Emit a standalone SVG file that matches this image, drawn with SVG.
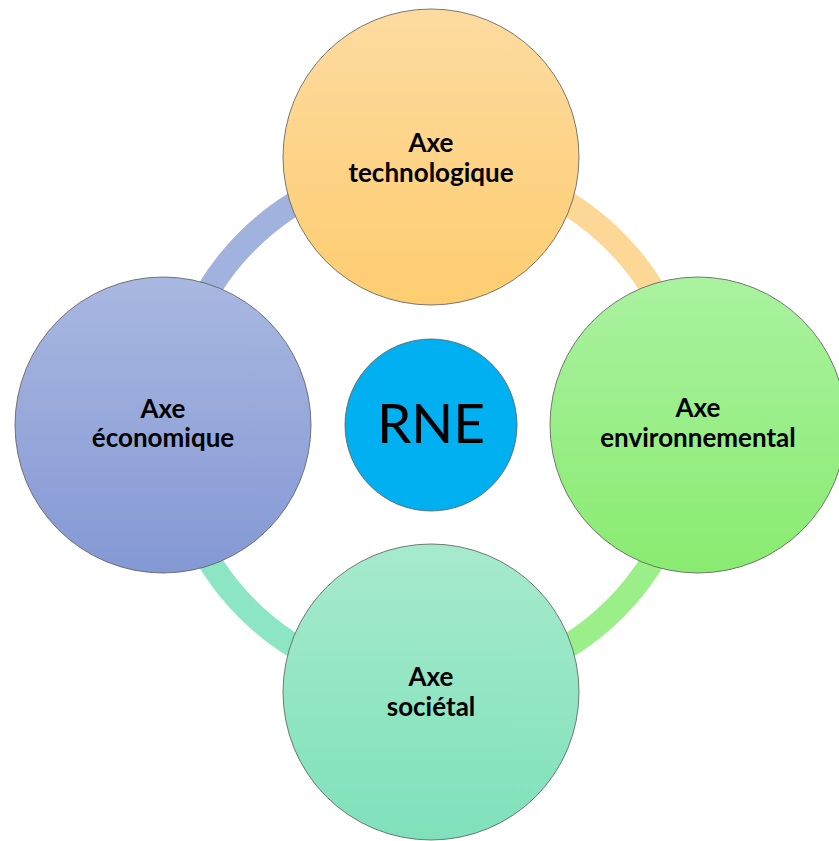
<svg xmlns="http://www.w3.org/2000/svg" width="839" height="841" viewBox="0 0 839 841">
  <defs>
    <linearGradient id="gOrange" x1="0" y1="0" x2="0" y2="1">
      <stop offset="0" stop-color="#FDDBA0"/>
      <stop offset="1" stop-color="#FDCD70"/>
    </linearGradient>
    <linearGradient id="gGreen" x1="0" y1="0" x2="0" y2="1">
      <stop offset="0" stop-color="#AAF2A0"/>
      <stop offset="1" stop-color="#89EB70"/>
    </linearGradient>
    <linearGradient id="gTeal" x1="0" y1="0" x2="0" y2="1">
      <stop offset="0" stop-color="#A6EACC"/>
      <stop offset="1" stop-color="#7FE1BB"/>
    </linearGradient>
    <linearGradient id="gBlue" x1="0" y1="0" x2="0" y2="1">
      <stop offset="0" stop-color="#A9B8E1"/>
      <stop offset="1" stop-color="#8498D4"/>
    </linearGradient>
    <style>
      .arc { fill: none; stroke-width: 24; }
      .node { stroke: #5a5a5a; stroke-width: 1; stroke-opacity: 0.8; }
      .lbl { font-family: Lato, "Open Sans", "Liberation Sans", sans-serif; font-weight: bold; font-size: 26px; fill: #000; text-anchor: middle; }
      .core { font-family: Lato, "Open Sans", "Liberation Sans", sans-serif; font-size: 55px; fill: #000; text-anchor: middle; }
    </style>
  </defs>
  <rect width="839" height="841" fill="#FFFFFF"/>
  <g id="connectors">
    <path class="arc" stroke="#FDD795" d="M431,165 A260,260 0 0 1 691,425"/>
    <path class="arc" stroke="#9AEF88" d="M691,425 A260,260 0 0 1 431,685"/>
    <path class="arc" stroke="#8CE5C3" d="M431,685 A260,260 0 0 1 171,425"/>
    <path class="arc" stroke="#A2B2DF" d="M171,425 A260,260 0 0 1 431,165"/>
  </g>
  <g id="node-technologique">
    <circle class="node" cx="431" cy="157" r="148" fill="url(#gOrange)"/>
    <text class="lbl" x="431" y="152">Axe</text>
    <text class="lbl" x="431" y="182">technologique</text>
  </g>
  <g id="node-environnemental">
    <circle class="node" cx="698" cy="425" r="148" fill="url(#gGreen)"/>
    <text class="lbl" x="698" y="417">Axe</text>
    <text class="lbl" x="698" y="447">environnemental</text>
  </g>
  <g id="node-societal">
    <circle class="node" cx="431" cy="692" r="148" fill="url(#gTeal)"/>
    <text class="lbl" x="431" y="686">Axe</text>
    <text class="lbl" x="431" y="716">sociétal</text>
  </g>
  <g id="node-economique">
    <circle class="node" cx="163" cy="425" r="148" fill="url(#gBlue)"/>
    <text class="lbl" x="163" y="418">Axe</text>
    <text class="lbl" x="163" y="447">économique</text>
  </g>
  <g id="node-rne">
    <circle class="node" cx="431" cy="425" r="86" fill="#00B0F0"/>
    <text class="core" x="431" y="443">RNE</text>
  </g>
</svg>
